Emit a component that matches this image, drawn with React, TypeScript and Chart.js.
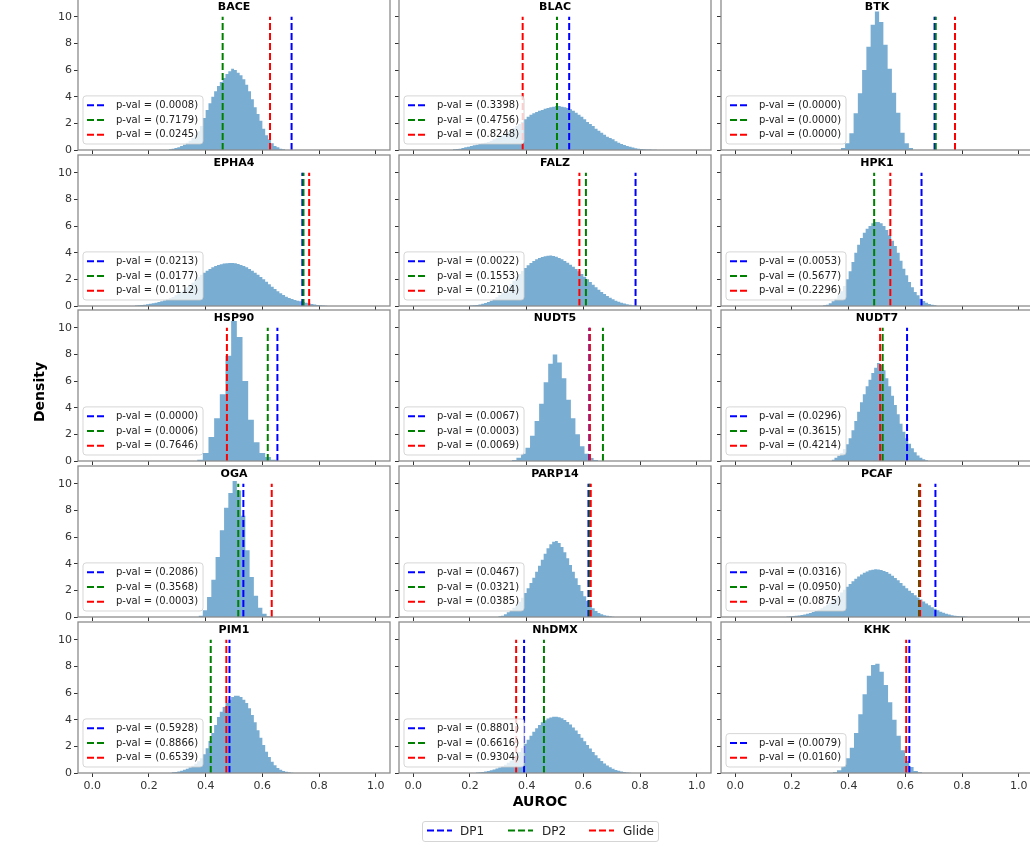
import React, { useEffect, useRef } from 'react';
import { Chart, registerables } from 'chart.js';

Chart.register(...registerables);

// ---------------- data ----------------
const TARGETS = ['BACE', 'BLAC', 'BTK', 'EPHA4', 'FALZ', 'HPK1', 'HSP90', 'NUDT5', 'NUDT7', 'OGA', 'PARP14', 'PCAF', 'PIM1', 'NhDMX', 'KHK'];
const METHODS = ['DP1', 'DP2', 'Glide'];
const METHOD_COLORS = ['#0000ff', '#008000', '#ff0000'];
const X_TICKS = [0, 0.2, 0.4, 0.6, 0.8, 1.0];
const Y_TICKS = [0, 2, 4, 6, 8, 10];
const X_RANGE = [-0.05, 1.05];
const Y_RANGE = [0, 11.33];
const LINE_TOP = 10;

// histogram bin left edge / bin width per target
const BIN_START = [0.27, 0.14, 0.3725, 0.15, 0.2, 0.31, 0.37, 0.348, 0.34, 0.375, 0.3, 0.18, 0.28, 0.22, 0.344];
const BIN_WIDTH = [0.01, 0.01, 0.015, 0.01, 0.01, 0.01, 0.02, 0.016, 0.01, 0.015, 0.01, 0.01, 0.01, 0.01, 0.015];

const BACE_DENSITY = [0.05, 0.1, 0.15, 0.2, 0.3, 0.4, 0.55, 0.7, 0.9, 1.1, 1.4, 1.8, 2.4, 3.0, 3.5, 4.0, 4.4, 4.8, 5.1, 5.4, 5.7, 5.9, 6.1, 6.0, 5.8, 5.6, 5.3, 4.9, 4.4, 3.8, 3.2, 2.7, 2.2, 1.6, 1.1, 0.8, 0.5, 0.3, 0.2, 0.1, 0.05];
const BLAC_DENSITY = [0.05, 0.08, 0.1, 0.15, 0.2, 0.25, 0.3, 0.35, 0.4, 0.45, 0.5, 0.55, 0.6, 0.7, 0.8, 0.9, 1.0, 1.1, 1.2, 1.35, 1.5, 1.65, 1.8, 1.95, 2.1, 2.3, 2.5, 2.65, 2.75, 2.85, 2.95, 3.0, 3.1, 3.15, 3.2, 3.25, 3.3, 3.3, 3.25, 3.2, 3.15, 3.05, 2.95, 2.8, 2.65, 2.5, 2.3, 2.1, 1.95, 1.8, 1.6, 1.45, 1.3, 1.15, 1.0, 0.9, 0.8, 0.65, 0.55, 0.45, 0.37, 0.3, 0.24, 0.18, 0.14, 0.1, 0.08, 0.06, 0.04, 0.03, 0.02, 0.01];
const BTK_DENSITY = [0.15, 0.5, 1.25, 2.75, 4.25, 6.0, 7.75, 9.4, 10.4, 9.6, 7.9, 6.1, 4.3, 2.8, 1.3, 0.5, 0.15];
const EPHA4_DENSITY = [0.03, 0.05, 0.08, 0.1, 0.13, 0.16, 0.2, 0.25, 0.3, 0.36, 0.42, 0.5, 0.58, 0.68, 0.8, 0.93, 1.07, 1.22, 1.4, 1.58, 1.77, 1.95, 2.15, 2.35, 2.5, 2.65, 2.78, 2.9, 3.0, 3.08, 3.14, 3.18, 3.2, 3.22, 3.22, 3.2, 3.15, 3.08, 3.0, 2.9, 2.78, 2.65, 2.5, 2.35, 2.18, 2.0, 1.82, 1.63, 1.45, 1.27, 1.1, 0.95, 0.82, 0.7, 0.6, 0.52, 0.45, 0.4, 0.35, 0.3, 0.25, 0.2, 0.15, 0.11, 0.08, 0.05, 0.03, 0.02];
const FALZ_DENSITY = [0.03, 0.05, 0.08, 0.12, 0.17, 0.23, 0.3, 0.4, 0.52, 0.66, 0.82, 1.0, 1.2, 1.42, 1.66, 1.9, 2.15, 2.4, 2.62, 2.85, 3.05, 3.22, 3.38, 3.5, 3.6, 3.68, 3.74, 3.77, 3.78, 3.75, 3.7, 3.6, 3.5, 3.38, 3.25, 3.1, 2.95, 2.78, 2.6, 2.4, 2.2, 2.0, 1.8, 1.6, 1.4, 1.22, 1.05, 0.9, 0.75, 0.62, 0.5, 0.4, 0.31, 0.24, 0.18, 0.13, 0.09, 0.06, 0.04, 0.02];
const HPK1_DENSITY = [0.05, 0.1, 0.2, 0.35, 0.55, 0.8, 1.1, 1.5, 2.0, 2.6, 3.3, 4.0, 4.6, 5.1, 5.5, 5.8, 6.0, 6.2, 6.3, 6.3, 6.2, 6.0, 5.7, 5.3, 4.9, 4.5, 4.0, 3.4, 2.8, 2.3, 1.8, 1.4, 1.05, 0.8, 0.55, 0.38, 0.25, 0.15, 0.09, 0.05];
const HSP90_DENSITY = [0.1, 0.6, 1.8, 3.2, 5.0, 7.9, 10.5, 9.3, 6.0, 3.1, 1.4, 0.6, 0.3, 0.1];
const NUDT5_DENSITY = [0.08, 0.25, 0.55, 1.0, 1.9, 3.0, 4.3, 5.9, 7.3, 8.0, 7.4, 6.2, 4.6, 3.2, 2.0, 1.1, 0.55, 0.22, 0.07];
const NUDT7_DENSITY = [0.1, 0.25, 0.4, 0.6, 0.9, 1.25, 1.7, 2.3, 3.0, 3.7, 4.4, 5.0, 5.6, 6.1, 6.6, 7.0, 7.35, 7.2, 6.8, 6.2, 5.6, 4.9, 4.2, 3.5, 2.8, 2.2, 1.7, 1.3, 0.95, 0.65, 0.42, 0.25, 0.13, 0.06];
const OGA_DENSITY = [0.1, 0.5, 1.5, 2.8, 4.5, 6.5, 8.2, 9.3, 10.2, 9.5, 7.6, 5.0, 3.0, 1.6, 0.7, 0.25, 0.05];
const PARP14_DENSITY = [0.05, 0.1, 0.2, 0.35, 0.5, 0.7, 0.9, 1.15, 1.45, 1.8, 2.15, 2.55, 2.95, 3.4, 3.85, 4.3, 4.75, 5.15, 5.45, 5.65, 5.7, 5.55, 5.25, 4.85, 4.4, 3.9, 3.4, 2.9, 2.4, 1.95, 1.55, 1.2, 0.9, 0.65, 0.45, 0.3, 0.2, 0.14, 0.09, 0.05, 0.02];
const PCAF_DENSITY = [0.03, 0.05, 0.07, 0.09, 0.12, 0.15, 0.19, 0.24, 0.3, 0.37, 0.45, 0.55, 0.66, 0.78, 0.92, 1.07, 1.24, 1.42, 1.62, 1.83, 2.05, 2.27, 2.48, 2.68, 2.87, 3.04, 3.19, 3.32, 3.42, 3.5, 3.55, 3.58, 3.57, 3.53, 3.46, 3.37, 3.25, 3.1, 2.93, 2.75, 2.55, 2.35, 2.15, 1.97, 1.8, 1.63, 1.47, 1.32, 1.17, 1.02, 0.88, 0.74, 0.61, 0.5, 0.4, 0.32, 0.25, 0.19, 0.14, 0.1, 0.07, 0.05, 0.03, 0.02];
const PIM1_DENSITY = [0.05, 0.08, 0.12, 0.17, 0.24, 0.32, 0.42, 0.55, 0.7, 0.88, 1.1, 1.4, 1.85, 2.4, 3.0, 3.6, 4.2, 4.6, 4.95, 5.25, 5.5, 5.7, 5.8, 5.8, 5.7, 5.5, 5.25, 4.85, 4.35, 3.8, 3.2, 2.65, 2.1, 1.6, 1.2, 0.85, 0.58, 0.38, 0.24, 0.15, 0.09, 0.05, 0.02];
const NHDMX_DENSITY = [0.03, 0.05, 0.08, 0.11, 0.15, 0.2, 0.26, 0.33, 0.41, 0.5, 0.62, 0.76, 0.92, 1.1, 1.32, 1.58, 1.87, 2.2, 2.5, 2.8, 3.1, 3.35, 3.6, 3.8, 3.95, 4.08, 4.17, 4.22, 4.22, 4.18, 4.1, 3.98, 3.82, 3.63, 3.42, 3.18, 2.92, 2.65, 2.38, 2.1, 1.83, 1.57, 1.33, 1.1, 0.9, 0.72, 0.56, 0.43, 0.32, 0.23, 0.16, 0.11, 0.07, 0.04, 0.02];
const KHK_DENSITY = [0.05, 0.2, 0.5, 1.1, 1.9, 3.0, 4.4, 5.9, 7.3, 8.1, 8.2, 7.6, 6.6, 5.3, 4.0, 2.8, 1.7, 0.9, 0.45, 0.15, 0.05];

const DENSITIES = [BACE_DENSITY, BLAC_DENSITY, BTK_DENSITY, EPHA4_DENSITY, FALZ_DENSITY, HPK1_DENSITY, HSP90_DENSITY, NUDT5_DENSITY, NUDT7_DENSITY, OGA_DENSITY, PARP14_DENSITY, PCAF_DENSITY, PIM1_DENSITY, NHDMX_DENSITY, KHK_DENSITY];

// observed AUROC per method (null = not available)
const DP1_AUROC = [0.703, 0.55, 0.703, 0.741, 0.784, 0.657, 0.653, 0.621, 0.606, 0.533, 0.618, 0.706, 0.484, 0.391, 0.614];
const DP2_AUROC = [0.46, 0.507, 0.707, 0.745, 0.609, 0.49, 0.619, 0.669, 0.52, 0.515, 0.622, 0.648, 0.418, 0.461, null];
const GLIDE_AUROC = [0.627, 0.386, 0.775, 0.765, 0.586, 0.547, 0.475, 0.623, 0.511, 0.633, 0.626, 0.652, 0.473, 0.363, 0.603];

const DP1_PVAL = ['0.0008', '0.3398', '0.0000', '0.0213', '0.0022', '0.0053', '0.0000', '0.0067', '0.0296', '0.2086', '0.0467', '0.0316', '0.5928', '0.8801', '0.0079'];
const DP2_PVAL = ['0.7179', '0.4756', '0.0000', '0.0177', '0.1553', '0.5677', '0.0006', '0.0003', '0.3615', '0.3568', '0.0321', '0.0950', '0.8866', '0.6616', null];
const GLIDE_PVAL = ['0.0245', '0.8248', '0.0000', '0.0112', '0.2104', '0.2296', '0.7646', '0.0069', '0.4214', '0.0003', '0.0385', '0.0875', '0.6539', '0.9304', '0.0160'];

// ---------------- layout ----------------
const FONT = '"DejaVu Sans", sans-serif';
const COL_LEFT = [78, 399, 721];
const ROW_BOTTOM = [150, 306, 461, 617, 773];
const PANEL_W = 312;
const PANEL_H = 151;
const PAD_LEFT = 40;
const PAD_TOP = 2;
const PAD_RIGHT = 8;
const PAD_BOTTOM = 22;
const CANVAS_W = PAD_LEFT + PANEL_W + PAD_RIGHT;
const CANVAS_H = PAD_TOP + PANEL_H + PAD_BOTTOM;

const panelDecor = {
  id: 'panelDecor',
  afterDatasetsDraw(chart: any, _args: any, opts: any) {
    const { ctx, chartArea: a } = chart;
    const entries = opts.entries as { label: string; color: string }[];
    ctx.save();
    // in-panel legend
    ctx.font = `10px ${FONT}`;
    const rowH = 14.7;
    const textW = Math.max(...entries.map((e) => ctx.measureText(e.label).width));
    const bx = a.left + 5;
    const bw = 33 + textW + 5;
    const bh = entries.length * rowH + 4;
    const by = a.bottom - 6 - bh;
    ctx.beginPath();
    if (ctx.roundRect) ctx.roundRect(bx, by, bw, bh, 3);
    else ctx.rect(bx, by, bw, bh);
    ctx.fillStyle = 'rgba(255,255,255,0.8)';
    ctx.fill();
    ctx.strokeStyle = 'rgba(204,204,204,0.8)';
    ctx.lineWidth = 1;
    ctx.stroke();
    entries.forEach((e, i) => {
      const cy = by + 2 + rowH * (i + 0.5);
      ctx.setLineDash([7, 3]);
      ctx.strokeStyle = e.color;
      ctx.lineWidth = 2;
      ctx.beginPath();
      ctx.moveTo(bx + 4, cy);
      ctx.lineTo(bx + 22, cy);
      ctx.stroke();
      ctx.setLineDash([]);
      ctx.fillStyle = '#222';
      ctx.textAlign = 'left';
      ctx.textBaseline = 'middle';
      ctx.fillText(e.label, bx + 33, cy);
    });
    // title
    ctx.font = `bold 11px ${FONT}`;
    ctx.fillStyle = '#000';
    ctx.textAlign = 'center';
    ctx.textBaseline = 'middle';
    ctx.fillText(opts.title, (a.left + a.right) / 2, a.top + 8);
    // frame
    ctx.strokeStyle = '#8c8c8c';
    ctx.lineWidth = 1.3;
    ctx.strokeRect(a.left, a.top, a.right - a.left, a.bottom - a.top);
    ctx.restore();
  },
};

function Panel({ index }: { index: number }) {
  const ref = useRef<HTMLCanvasElement | null>(null);
  const col = index % 3;
  const row = Math.floor(index / 3);
  const left = COL_LEFT[col] - PAD_LEFT;
  const top = ROW_BOTTOM[row] - PANEL_H - PAD_TOP;

  useEffect(() => {
    const canvas = ref.current;
    if (!canvas) return;
    const s = BIN_START[index];
    const w = BIN_WIDTH[index];
    const dens = DENSITIES[index];
    const histPts = dens.map((v, k) => ({ x: s + k * w, y: v }));
    histPts.push({ x: s + dens.length * w, y: 0 });

    const aurocs = [DP1_AUROC[index], DP2_AUROC[index], GLIDE_AUROC[index]];
    const pvals = [DP1_PVAL[index], DP2_PVAL[index], GLIDE_PVAL[index]];
    const datasets: any[] = [
      {
        label: 'null distribution',
        data: histPts,
        stepped: 'before',
        fill: 'origin',
        backgroundColor: 'rgba(31,119,180,0.6)',
        borderColor: 'rgba(0,0,0,0)',
        borderWidth: 0,
        pointRadius: 0,
        order: 10,
      },
    ];
    const entries: { label: string; color: string }[] = [];
    aurocs.forEach((v, m) => {
      if (v == null) return;
      datasets.push({
        label: METHODS[m],
        data: [
          { x: v, y: 0 },
          { x: v, y: LINE_TOP },
        ],
        borderColor: METHOD_COLORS[m],
        borderWidth: 2,
        borderDash: [7, 3],
        pointRadius: 0,
        fill: false,
        order: 3 - m,
      });
      entries.push({ label: `p-val = (${pvals[m]})`, color: METHOD_COLORS[m] });
    });

    const showX = row === 4;
    const showY = col === 0;
    const tickFont = { family: FONT, size: 11 };

    const chart = new Chart(canvas, {
      type: 'line',
      data: { datasets },
      options: {
        animation: false,
        responsive: false,
        maintainAspectRatio: false,
        devicePixelRatio: 1,
        events: [],
        layout: { padding: { left: 0, top: PAD_TOP, right: PAD_RIGHT, bottom: 0 } },
        plugins: {
          legend: { display: false },
          tooltip: { enabled: false },
          panelDecor: { title: TARGETS[index], entries },
        } as any,
        scales: {
          x: {
            type: 'linear',
            min: X_RANGE[0],
            max: X_RANGE[1],
            afterBuildTicks: (sc: any) => {
              sc.ticks = X_TICKS.map((v) => ({ value: v }));
            },
            afterFit: (sc: any) => {
              sc.height = PAD_BOTTOM;
              sc.paddingLeft = 0;
              sc.paddingRight = 0;
              sc.paddingTop = 0;
              sc.paddingBottom = 0;
            },
            grid: { display: true, drawOnChartArea: false, drawTicks: true, tickLength: 4, tickColor: '#333', tickWidth: 1 },
            border: { display: false },
            ticks: {
              display: showX,
              font: tickFont,
              color: '#333',
              padding: 3,
              maxRotation: 0,
              autoSkip: false,
              callback: (v: any) => Number(v).toFixed(1),
            },
          },
          y: {
            type: 'linear',
            min: Y_RANGE[0],
            max: Y_RANGE[1],
            afterBuildTicks: (sc: any) => {
              sc.ticks = Y_TICKS.map((v) => ({ value: v }));
            },
            afterFit: (sc: any) => {
              sc.width = PAD_LEFT;
              sc.paddingLeft = 0;
              sc.paddingRight = 0;
              sc.paddingTop = 0;
              sc.paddingBottom = 0;
            },
            grid: { display: true, drawOnChartArea: false, drawTicks: true, tickLength: 4, tickColor: '#333', tickWidth: 1 },
            border: { display: false },
            ticks: {
              display: showY,
              font: tickFont,
              color: '#333',
              padding: 2,
              autoSkip: false,
              callback: (v: any) => String(v),
            },
          },
        },
      },
      plugins: [panelDecor as any],
    });
    return () => chart.destroy();
  }, [index]);

  return (
    <canvas
      ref={ref}
      width={CANVAS_W}
      height={CANVAS_H}
      style={{ position: 'absolute', left, top, width: CANVAS_W, height: CANVAS_H }}
    />
  );
}

const LEGEND_SWATCH_X = [427, 508, 589];
const LEGEND_TEXT_X = [460, 542, 623];

export default function App() {
  return (
    <div style={{ position: 'absolute', left: 0, top: 0, width: 1030, height: 848, overflow: 'hidden', background: '#fff', fontFamily: FONT }}>
      {TARGETS.map((t, i) => (
        <Panel key={t} index={i} />
      ))}
      <div
        style={{
          position: 'absolute',
          left: 41 - 60,
          top: 392 - 10,
          width: 120,
          height: 20,
          lineHeight: '20px',
          textAlign: 'center',
          transform: 'rotate(-90deg)',
          font: `bold 14px ${FONT}`,
          color: '#000',
        }}
      >
        Density
      </div>
      <div
        style={{
          position: 'absolute',
          left: 540 - 60,
          top: 803 - 10,
          width: 120,
          height: 20,
          lineHeight: '20px',
          textAlign: 'center',
          font: `bold 14px ${FONT}`,
          color: '#000',
        }}
      >
        AUROC
      </div>
      <div
        style={{
          position: 'absolute',
          left: 422,
          top: 821,
          width: 237,
          height: 21,
          boxSizing: 'border-box',
          border: '1px solid #d5d5d5',
          borderRadius: 3,
          background: '#fff',
        }}
      >
        {METHODS.map((m, i) => (
          <React.Fragment key={m}>
            <svg
              width={26}
              height={3}
              style={{ position: 'absolute', left: LEGEND_SWATCH_X[i] - 423, top: 7.2 }}
            >
              <line x1={0} y1={1.5} x2={25} y2={1.5} stroke={METHOD_COLORS[i]} strokeWidth={2} strokeDasharray="7 3" />
            </svg>
            <span
              style={{
                position: 'absolute',
                left: LEGEND_TEXT_X[i] - 423,
                top: 1.7,
                font: `12px ${FONT}`,
                lineHeight: '14px',
                color: '#222',
                whiteSpace: 'nowrap',
              }}
            >
              {m}
            </span>
          </React.Fragment>
        ))}
      </div>
    </div>
  );
}
